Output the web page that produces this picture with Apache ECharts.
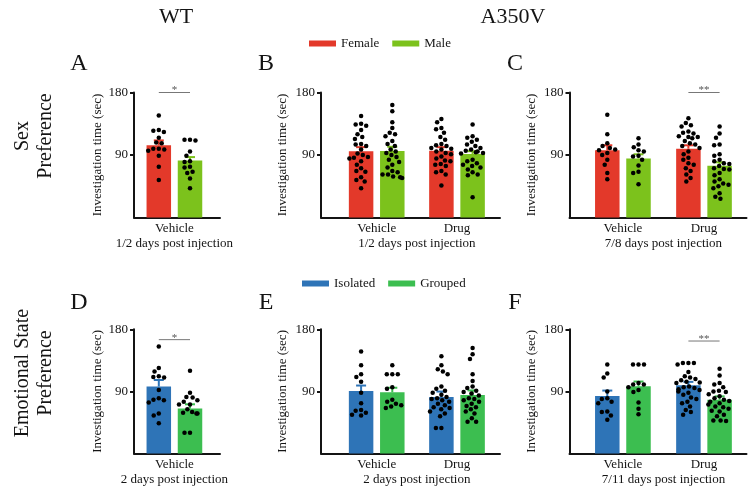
<!DOCTYPE html>
<html>
<head>
<meta charset="utf-8">
<script src="https://cdn.jsdelivr.net/npm/echarts@6.0.0/dist/echarts.min.js"></script>
<style>
html, body { margin: 0; padding: 0; background: #fff; }
#chart { width: 748px; height: 489px; }
</style>
</head>
<body>
<div id="chart"></div>
<script>
var FONT = "'Liberation Serif', 'Times New Roman', Times, serif";
var INK = '#141414';

// shared labels
var yTicks = [90, 180];
var groupsWT = ['Vehicle'];
var groupsA350V = ['Vehicle', 'Drug'];
var sexNames = ['Female', 'Male'];
var moodNames = ['Isolated', 'Grouped'];
var sexColors = ['#E3392A', '#7CC21C'];
var moodColors = ['#2E74B7', '#3CBE50'];

// A - WT, sex preference, 1/2 days
var aFemaleMean = [104], aFemaleSem = [7];
var aMaleMean = [82], aMaleSem = [5];
var aFemaleDots = [[147, 126, 125, 123, 115, 108, 107, 99, 99, 98, 96, 89, 73, 54]];
var aMaleDots = [[112, 112, 111, 95, 89, 81, 80, 73, 72, 66, 64, 56, 42]];
var aSig = [0, 180, '*'];

// B - A350V, sex preference, 1/2 days
var bFemaleMean = [95.3, 96.3], bFemaleSem = [6, 5];
var bMaleMean = [95.8, 91.5], bMaleSem = [6, 4];
var bFemaleDots = [
  [146, 135, 134, 132, 126, 120, 116, 113, 106, 105, 103, 98, 92, 90, 87, 86, 85, 81, 76, 71, 67, 66, 58, 54, 52, 42],
  [142, 137, 129, 127, 122, 116, 112, 106, 104, 103, 100, 99, 98, 95, 93, 91, 88, 85, 82, 81, 77, 76, 74, 67, 65, 62, 46]
];
var bMaleDots = [
  [162, 153, 137, 129, 122, 120, 117, 110, 106, 103, 98, 95, 93, 90, 87, 83, 80, 76, 72, 67, 65, 62, 62, 59, 58, 57],
  [134, 117, 115, 112, 109, 105, 103, 100, 98, 96, 95, 94, 93, 92, 83, 81, 78, 76, 74, 72, 69, 65, 62, 61, 29]
];

// C - A350V, sex preference, 7/8 days
var cFemaleMean = [97, 99], cFemaleSem = [7, 5];
var cMaleMean = [85, 74.5], cMaleSem = [6, 5];
var cFemaleDots = [
  [148, 120, 107, 103, 100, 98, 97, 93, 90, 83, 76, 64, 55],
  [143, 136, 133, 131, 124, 122, 121, 117, 116, 116, 114, 110, 107, 105, 103, 100, 95, 91, 86, 83, 78, 76, 71, 67, 62, 57, 52]
];
var cMaleDots = [
  [114, 105, 101, 97, 95, 89, 88, 83, 75, 66, 64, 48],
  [131, 121, 115, 105, 104, 91, 89, 83, 81, 78, 77, 74, 71, 70, 69, 64, 61, 55, 52, 49, 47, 45, 42, 35, 30, 27]
];
var cSig = [1, 180, '**'];

// D - WT, emotional state preference, 2 days
var dIsoMean = [97], dIsoSem = [9.5];
var dGrpMean = [65.3], dGrpSem = [6];
var dIsoDots = [[155, 124, 119, 112, 111, 110, 92, 80, 78, 77, 74, 58, 55, 44]];
var dGrpDots = [[120, 88, 82, 81, 77, 75, 71, 71, 64, 60, 59, 58, 58, 30, 30]];
var dSig = [0, 165, '*'];

// E - A350V, emotional state preference, 2 days
var eIsoMean = [90.5, 81.8], eIsoSem = [8, 8];
var eGrpMean = [88.6, 84.7], eGrpSem = [6.7, 6.7];
var eIsoDots = [
  [148, 128, 115, 111, 104, 88, 73, 63, 62, 59, 56, 55],
  [141, 128, 122, 119, 115, 97, 94, 91, 88, 85, 82, 80, 79, 77, 75, 72, 70, 67, 66, 64, 61, 58, 54, 37, 37]
];
var eGrpDots = [
  [128, 115, 115, 115, 96, 94, 78, 75, 72, 70, 68, 66],
  [153, 144, 137, 115, 105, 97, 95, 91, 89, 87, 84, 80, 79, 77, 75, 72, 69, 67, 64, 61, 58, 51, 46, 46]
];

// F - A350V, emotional state preference, 7/11 days
var fIsoMean = [83.2, 98.8], fIsoSem = [8, 5];
var fGrpMean = [97.3, 77.8], fGrpSem = [7, 5];
var fIsoDots = [
  [129, 116, 110, 90, 80, 79, 75, 73, 61, 60, 55, 49],
  [131, 131, 131, 129, 118, 112, 110, 108, 106, 104, 103, 102, 97, 96, 95, 93, 92, 90, 88, 85, 81, 79, 75, 73, 68, 63, 60, 56]
];
var fGrpDots = [
  [129, 129, 129, 102, 100, 100, 96, 92, 89, 74, 65, 57],
  [123, 113, 102, 100, 96, 91, 90, 89, 86, 83, 80, 78, 76, 75, 73, 71, 68, 67, 65, 62, 61, 56, 54, 48, 48, 47]
];
var fSig = [1, 163, '**'];

var panels = [
  {col: 0, row: 0, groups: groupsWT, names: sexNames, colors: sexColors, means: [aFemaleMean, aMaleMean], sems: [aFemaleSem, aMaleSem], dots: [aFemaleDots, aMaleDots], note: '1/2 days post injection', sig: aSig},
  {col: 1, row: 0, groups: groupsA350V, names: sexNames, colors: sexColors, means: [bFemaleMean, bMaleMean], sems: [bFemaleSem, bMaleSem], dots: [bFemaleDots, bMaleDots], note: '1/2 days post injection'},
  {col: 2, row: 0, groups: groupsA350V, names: sexNames, colors: sexColors, means: [cFemaleMean, cMaleMean], sems: [cFemaleSem, cMaleSem], dots: [cFemaleDots, cMaleDots], note: '7/8 days post injection', sig: cSig},
  {col: 0, row: 1, groups: groupsWT, names: moodNames, colors: moodColors, means: [dIsoMean, dGrpMean], sems: [dIsoSem, dGrpSem], dots: [dIsoDots, dGrpDots], note: '2 days post injection', sig: dSig},
  {col: 1, row: 1, groups: groupsA350V, names: moodNames, colors: moodColors, means: [eIsoMean, eGrpMean], sems: [eIsoSem, eGrpSem], dots: [eIsoDots, eGrpDots], note: '2 days post injection'},
  {col: 2, row: 1, groups: groupsA350V, names: moodNames, colors: moodColors, means: [fIsoMean, fGrpMean], sems: [fIsoSem, fGrpSem], dots: [fIsoDots, fGrpDots], note: '7/11 days post injection', sig: fSig}
];

// layout (pixels)
var cols = [
  {left: 134, right: 220, centers: [174.4], nameGap: 30},
  {left: 321, right: 500, centers: [376.7, 457], nameGap: 32},
  {left: 569.5, right: 746.5, centers: [622.9, 704], nameGap: 31}
];
var rows = [{top: 92.5, bottom: 217.5}, {top: 329.3, bottom: 453.5}];
var HALF_PAIR = 15.6, BAR_W = 24.5;

function errorBar(color) {
  return function (params, api) {
    var mid = api.coord([api.value(0), api.value(1)]);
    var top = api.coord([api.value(0), api.value(1) + api.value(2)]);
    return {type: 'group', children: [
      {type: 'line', shape: {x1: mid[0], y1: mid[1], x2: top[0], y2: top[1]}, style: {stroke: color, lineWidth: 2}},
      {type: 'line', shape: {x1: top[0] - 5, y1: top[1], x2: top[0] + 5, y2: top[1]}, style: {stroke: color, lineWidth: 2}}
    ]};
  };
}

function sigBracket(mark) {
  return function (params, api) {
    var p = api.coord([api.value(0), api.value(1)]);
    return {type: 'group', children: [
      {type: 'line', shape: {x1: p[0] - HALF_PAIR, y1: p[1], x2: p[0] + HALF_PAIR, y2: p[1]}, style: {stroke: '#777', lineWidth: 1}},
      {type: 'text', x: p[0], y: p[1] - 2, style: {text: mark, align: 'center', verticalAlign: 'middle', fontFamily: FONT, fontSize: 11, fill: '#555'}}
    ]};
  };
}

var grid = [], xAxis = [], yAxis = [], series = [];

function addGrid(box) {
  box.containLabel = false;
  box.outerBoundsMode = 'none';
  grid.push(box);
  return grid.length - 1;
}
function hiddenY(gi) {
  return {gridIndex: gi, type: 'value', min: 0, max: 180, show: false};
}

panels.forEach(function (p) {
  var c = cols[p.col], r = rows[p.row];
  var top = r.top, h = r.bottom - r.top;

  // frame: axis lines, y ticks and y name
  var fi = addGrid({left: c.left, top: top, width: c.right - c.left, height: h});
  xAxis.push({gridIndex: fi, type: 'value', min: 0, max: 1,
    axisLine: {show: true, onZero: false, lineStyle: {color: INK, width: 2}},
    axisTick: {show: false}, axisLabel: {show: false}, splitLine: {show: false}});
  yAxis.push({gridIndex: fi, type: 'value', min: 0, max: 180, interval: 90,
    axisLine: {show: true, lineStyle: {color: INK, width: 2}},
    axisTick: {show: true, length: 4, lineStyle: {color: INK, width: 2}, customValues: yTicks},
    axisLabel: {customValues: yTicks, fontFamily: FONT, fontSize: 13, color: INK, margin: 6},
    splitLine: {show: false},
    name: 'Investigation time (sec)', nameLocation: 'middle', nameRotate: 90, nameGap: c.nameGap,
    nameTextStyle: {fontFamily: FONT, fontSize: 13, color: INK}});

  var n = p.groups.length;
  var w = n === 1 ? 60 : 2 * (c.centers[1] - c.centers[0]);
  var left0 = c.centers[0] - w / (2 * n);

  // group labels and note
  var li = addGrid({left: left0, top: top, width: w, height: h});
  xAxis.push({gridIndex: li, type: 'category', data: p.groups,
    axisLine: {show: false}, axisTick: {show: false},
    axisLabel: {fontFamily: FONT, fontSize: 13, color: INK, margin: 5},
    name: p.note, nameLocation: 'middle', nameGap: 20,
    nameTextStyle: {fontFamily: FONT, fontSize: 13, color: INK}});
  yAxis.push(hiddenY(li));

  // one grid per bar colour, shifted left / right of the group centre
  [-1, 1].forEach(function (side, k) {
    var gi = addGrid({left: left0 + side * HALF_PAIR, top: top, width: w, height: h});
    xAxis.push({gridIndex: gi, type: 'category', data: p.groups, show: false,
      jitter: 24, jitterOverlap: false, jitterMargin: 1});
    yAxis.push(hiddenY(gi));
    series.push({type: 'bar', name: p.names[k], xAxisIndex: gi, yAxisIndex: gi,
      data: p.means[k], barWidth: BAR_W, itemStyle: {color: p.colors[k]}, silent: true, z: 2});
    series.push({type: 'custom', xAxisIndex: gi, yAxisIndex: gi, silent: true, z: 3,
      data: p.means[k].map(function (m, i) { return [i, m, p.sems[k][i]]; }),
      renderItem: errorBar(p.colors[k])});
    var pts = [];
    p.dots[k].forEach(function (arr, i) {
      arr.forEach(function (v) { pts.push([i, v]); });
    });
    series.push({type: 'scatter', xAxisIndex: gi, yAxisIndex: gi, data: pts,
      symbolSize: 4.5, itemStyle: {color: '#000', opacity: 1}, silent: true, z: 4});
  });

  if (p.sig) {
    series.push({type: 'custom', xAxisIndex: li, yAxisIndex: li, silent: true, z: 5,
      data: [[p.sig[0], p.sig[1]]], renderItem: sigBracket(p.sig[2])});
  }
});

function label(text, x, y, size) {
  return {type: 'text', x: x, y: y, silent: true,
    style: {text: text, align: 'center', verticalAlign: 'middle', fontFamily: FONT, fontSize: size, fill: INK}};
}

var graphic = [
  label('WT', 176, 17, 22),
  label('A350V', 513, 17, 22),
  label('A', 79, 64, 24), label('B', 266, 64, 24), label('C', 515, 64, 24),
  label('D', 79, 303, 24), label('E', 266, 303, 24), label('F', 515, 303, 24),
  {type: 'text', x: 34.5, y: 136, rotation: Math.PI / 2, silent: true,
    style: {text: 'Sex\nPreference', align: 'center', verticalAlign: 'middle', fontFamily: FONT, fontSize: 20, lineHeight: 23, fill: INK}},
  {type: 'text', x: 34.5, y: 373, rotation: Math.PI / 2, silent: true,
    style: {text: 'Emotional State\nPreference', align: 'center', verticalAlign: 'middle', fontFamily: FONT, fontSize: 20, lineHeight: 23, fill: INK}}
];

var legendBase = {icon: 'rect', itemWidth: 27, itemHeight: 6, itemGap: 13, padding: 0, selectedMode: false,
  textStyle: {fontFamily: FONT, fontSize: 13, color: INK}};

var chart = echarts.init(document.getElementById('chart'));
chart.setOption({
  animation: false,
  backgroundColor: '#fff',
  textStyle: {fontFamily: FONT},
  legend: [
    Object.assign({}, legendBase, {data: sexNames, left: 309, top: 37}),
    Object.assign({}, legendBase, {data: moodNames, left: 302, top: 277})
  ],
  grid: grid,
  xAxis: xAxis,
  yAxis: yAxis,
  series: series,
  graphic: graphic
});

window.addEventListener('resize', function () { chart.resize(); });
</script>
</body>
</html>
